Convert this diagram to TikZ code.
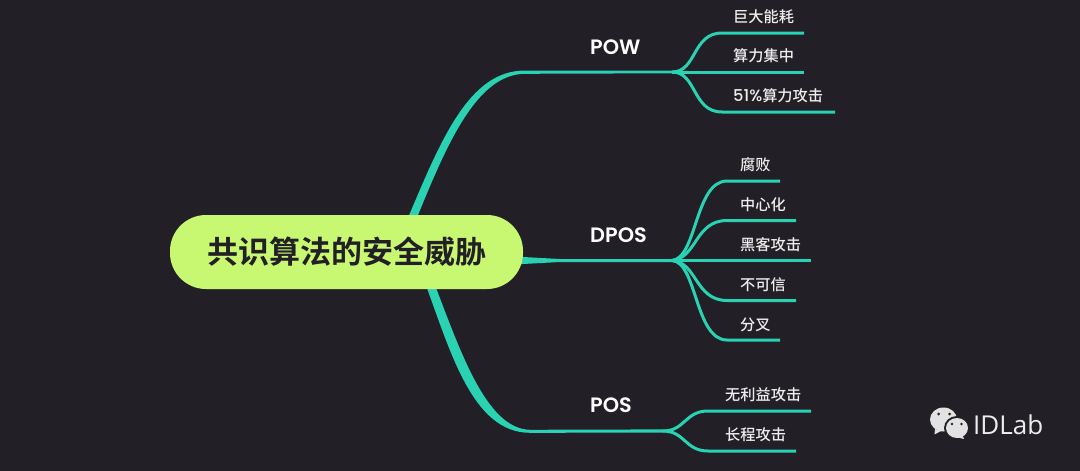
\documentclass[tikz,border=0pt]{standalone}
\usepackage{fontspec}
\usetikzlibrary{calc}
\setmainfont{Poppins}
\newfontfamily\cjk{Noto Sans CJK SC Medium}
\newfontfamily\cjkb{Noto Sans CJK SC Bold}
\newfontfamily\popsemi{Poppins SemiBold}
\newfontfamily\popmed{Poppins Medium}
\newfontfamily\wm{Open Sans}
\definecolor{bgc}{HTML}{231F26}
\definecolor{tealc}{HTML}{2AD2B4}
\definecolor{limec}{HTML}{C8F871}
\definecolor{txtc}{HTML}{EDEDED}
\definecolor{iconc}{HTML}{E2E2E2}
\tikzset{
  stem/.style={fill=tealc,draw=none},
  twig/.style={draw=tealc,line width=3pt,line cap=butt},
  rootbox/.style={fill=limec,rounded corners=36pt,minimum width=353pt,minimum height=74pt,inner sep=0pt,
    font={\cjkb\fontsize{31}{31}\selectfont},text=bgc},
  topic/.style={anchor=west,inner sep=0pt,text=white,font={\popsemi\fontsize{20.8}{20}\selectfont}},
  leaf/.style={anchor=west,inner sep=0pt,text=txtc,font={\cjk\fontsize{15.2}{15}\selectfont}},
  bubble/.style={fill=iconc,draw=none},
  eye/.style={fill=bgc,draw=none}
}
\begin{document}
\begin{tikzpicture}[x=1pt,y=-1pt]
\useasboundingbox (0,0) rectangle (1080,471);
\fill[bgc] (0,0) rectangle (1080,471);
% hubs and branch ends
\coordinate (powHub) at (672,72);
\coordinate (dposHub) at (672,260.5);
\coordinate (posHub) at (663,431);
\coordinate (a1) at (804,33); \coordinate (a2) at (804,72); \coordinate (a3) at (835,112);
\coordinate (b1) at (780,181); \coordinate (b2) at (796,220.5); \coordinate (b3) at (811,260.5);
\coordinate (b4) at (796,300.5); \coordinate (b5) at (780,340);
\coordinate (c1) at (811,411); \coordinate (c2) at (796,451);
% tapered main branches
\fill[stem] (405,225) .. controls (440,142) and (468,70.5) .. (525,70.5) -- (672,70.7) -- (powHub) -- (672,73.3) -- (525,73.8) .. controls (476,74) and (446,146) .. (414,225) -- cycle;
\fill[stem] (510,256.5) -- (523,257) -- (560,259) -- (672,259) -- (dposHub) -- (672,262) -- (560,262) -- (523,264) -- (510,264.5) -- cycle;
\fill[stem] (424,280) .. controls (450,350) and (472,432.8) .. (530,432.8) -- (663,432.6) -- (posHub) -- (663,429.4) -- (530,429.8) .. controls (486,429) and (460,350) .. (433,280) -- cycle;
% twigs
\draw[twig] (powHub) .. controls (697,72) and (692,33) .. (722,33) -- (a1);
\draw[twig] (powHub) -- (a2);
\draw[twig] (powHub) .. controls (697,72) and (692,112) .. (722,112) -- (a3);
\draw[twig] (dposHub) .. controls (697,258) and (695,181) .. (727,181) -- (b1);
\draw[twig] (dposHub) .. controls (697,258) and (695,220.5) .. (727,220.5) -- (b2);
\draw[twig] (dposHub) -- (b3);
\draw[twig] (dposHub) .. controls (697,262) and (695,300.5) .. (727,300.5) -- (b4);
\draw[twig] (dposHub) .. controls (697,262) and (695,340) .. (727,340) -- (b5);
\draw[twig] (posHub) .. controls (685,431) and (685,411) .. (708,411) -- (c1);
\draw[twig] (posHub) .. controls (685,431) and (685,451) .. (708,451) -- (c2);
% nodes
\node[rootbox] (root) at (346.5,252) {共识算法的安全威胁};
\node[topic] (pow) at (590,47) {POW};
\node[topic] (dpos) at (590,235) {DPOS};
\node[topic] (pos) at (590,405) {POS};
\node[leaf] (t1) at (733,16.5) {巨大能耗};
\node[leaf] (t2) at (733,56) {算力集中};
\node[leaf] (t3) at (733,96) {{\popmed\fontsize{16.3}{15}\selectfont 51\%}算力攻击};
\node[leaf] (u1) at (740,165) {腐败};
\node[leaf] (u2) at (740,205) {中心化};
\node[leaf] (u3) at (740,245) {黑客攻击};
\node[leaf] (u4) at (740,285) {不可信};
\node[leaf] (u5) at (740,325) {分叉};
\node[leaf] (v1) at (725,395) {无利益攻击};
\node[leaf] (v2) at (725,435) {长程攻击};
% watermark icon
\fill[bubble] (935,429) -- (934.5,434.5) -- (941,431) -- cycle;
\fill[bubble] (943.5,419.5) ellipse (13.5 and 12);
\fill[bgc] (957,428) ellipse (13 and 12);
\fill[bubble] (962,434) -- (964,439) -- (956,437) -- cycle;
\fill[bubble] (957,428) ellipse (11 and 10);
\fill[eye] (938.5,414) circle (1.5);
\fill[eye] (949.5,414) circle (1.5);
\fill[eye] (952,424) circle (1.4);
\fill[eye] (961.5,424) circle (1.4);
\node[anchor=west,inner sep=0pt,text=txtc,font={\wm\fontsize{26}{26}\selectfont}] (wm) at (973,425) {IDLab};
\end{tikzpicture}
\end{document}
